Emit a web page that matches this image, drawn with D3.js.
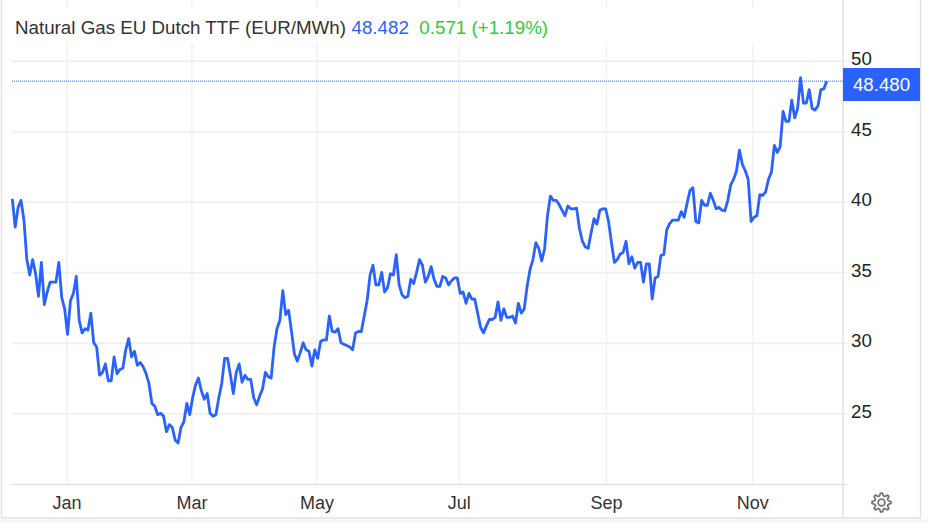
<!DOCTYPE html>
<html>
<head>
<meta charset="utf-8">
<script src="https://cdn.jsdelivr.net/npm/d3@7"></script>
<style>
  html, body { margin: 0; padding: 0; background: #fff; }
  svg { display: block; font-family: "Liberation Sans", Arial, sans-serif; }
  .domain { display: none; }
</style>
</head>
<body>
<svg id="chart" width="928" height="523"></svg>
<script>
// closing prices per trading session
const prices = [
  40.2,38.2,39.6,40.1,38.7,35.9,34.8,35.9,34.9,33.3,35.7,32.7,33.6,34.3,34.3,34.3,35.7,33.2,32.4,30.6,
  33.0,33.5,34.7,31.6,30.7,31.0,30.9,32.1,30.0,29.7,27.7,27.9,28.5,27.3,27.3,29.0,27.8,28.1,28.2,29.5,
  30.3,29.0,29.4,28.4,28.6,28.3,27.8,27.1,25.7,25.5,24.9,25.0,24.8,23.7,24.2,24.0,23.1,22.9,24.0,24.4,
  25.7,24.9,26.1,27.0,27.5,26.6,26.0,26.4,25.0,24.8,24.9,26.1,27.1,28.9,28.9,27.7,26.4,27.9,28.5,27.2,
  27.7,27.4,27.4,26.1,25.6,26.2,26.7,27.9,27.6,27.5,29.7,31.0,31.6,33.7,32.0,32.3,30.8,29.2,28.7,29.3,
  30.0,29.5,29.4,
  28.35,29.5,28.9,30.1,30.2,30.2,31.9,30.8,30.75,31.0,30.0,29.9,29.8,29.7,29.5,30.7,30.8,30.8,31.9,33.0,
  34.8,35.5,34.1,34.1,35.0,33.6,33.9,34.9,34.8,36.25,34.1,33.4,33.2,33.3,34.5,34.2,35.0,35.9,35.5,34.3,
  34.7,35.4,34.5,34.0,34.0,34.7,34.6,34.1,34.4,34.6,34.6,33.5,33.6,32.8,33.5,33.1,33.1,32.1,31.1,30.7,
  31.2,31.65,31.65,31.8,32.9,31.6,32.4,31.8,31.8,31.9,31.4,32.8,32.1,32.4,34.0,35.2,35.9,37.1,36.7,35.8,
  36.65,39.0,40.4,40.1,40.1,39.8,39.4,39.0,39.7,39.5,39.5,39.55,38.1,37.2,36.8,36.7,37.8,38.8,38.4,39.4,
  39.5,39.5,38.6,37.1,35.7,35.9,
  36.3,36.4,37.2,35.6,36.1,35.3,35.7,35.7,34.3,35.6,35.6,33.1,34.6,34.7,36.2,36.25,38.0,38.45,38.7,38.7,
  38.7,39.3,38.9,39.9,40.8,41.0,38.6,38.5,40.1,39.75,39.75,40.6,40.1,39.5,39.6,39.4,39.35,40.1,41.2,41.6,
  42.2,43.65,42.65,42.2,41.6,38.6,38.9,39.0,40.5,40.45,40.7,41.6,42.1,44.0,43.5,43.9,46.4,45.7,45.7,47.2,
  45.95,46.6,48.8,47.0,47.0,47.95,46.6,46.5,46.8,47.95,48.0,48.55
];

// month labels and the session each one falls on
const monthLabels = ['Jan', 'Mar', 'May', 'Jul', 'Sep', 'Nov'];
const monthSessions = [18.6, 61.6, 104.6, 153.5, 204.1, 254.4];
const priceTicks = [25, 30, 35, 40, 45, 50];

const titleName = 'Natural Gas EU Dutch TTF (EUR/MWh)';
const titlePrice = '48.482';
const titleChange = '0.571 (+1.19%)';
const lastLabel = '48.480';
const lastLevel = 48.55;

const blue = '#2962ff';
const svg = d3.select('#chart');

const xScale = d3.scaleLinear().domain([0, prices.length - 1]).range([12.3, 826.7]);
const yScale = d3.scaleLinear().domain([25, 50]).range([413.3, 60.7]);

// vertical month grid + labels
const xAxis = d3.axisBottom(xScale)
  .tickValues(monthSessions)
  .tickFormat((d, i) => monthLabels[i])
  .tickSize(-484)
  .tickPadding(12);

const xAxisG = svg.append('g')
  .attr('transform', 'translate(0,484)')
  .call(xAxis);
xAxisG.selectAll('.tick line').attr('stroke', '#eef3f7').attr('stroke-width', 1.5);
xAxisG.selectAll('.tick text')
  .attr('fill', '#333')
  .style('font-size', '18px');

// white strip behind the title hides the grid there
svg.append('rect')
  .attr('x', 0).attr('y', 8)
  .attr('width', 842).attr('height', 35)
  .attr('fill', '#fff');

// horizontal grid
const gridG = svg.append('g')
  .attr('transform', 'translate(12,0)')
  .call(d3.axisRight(yScale).tickValues(priceTicks).tickSize(830).tickFormat(''));
gridG.selectAll('.tick line').attr('stroke', '#f0f0f0').attr('stroke-width', 2);

// right axis
const yAxis = d3.axisRight(yScale)
  .tickValues(priceTicks)
  .tickSize(6)
  .tickPadding(2);
const yAxisG = svg.append('g')
  .attr('transform', 'translate(843,0)')
  .call(yAxis);
yAxisG.selectAll('.tick line').attr('stroke', '#ececec');
yAxisG.selectAll('.tick text')
  .attr('fill', '#222')
  .attr('dy', '0.22em')
  .style('font-size', '18.7px');

// frame lines
const frame = svg.append('g').attr('stroke', '#e2e2e2').attr('stroke-width', 1.5);
frame.append('line').attr('x1', 843).attr('x2', 843).attr('y1', 0).attr('y2', 518);
frame.append('line').attr('x1', 12).attr('x2', 848).attr('y1', 484.5).attr('y2', 484.5);
frame.append('line').attr('x1', 1.5).attr('x2', 1.5).attr('y1', 0).attr('y2', 518);
frame.append('line').attr('x1', 920.5).attr('x2', 920.5).attr('y1', 0).attr('y2', 518);
frame.append('line').attr('x1', 1).attr('x2', 921).attr('y1', 518).attr('y2', 518);
svg.append('rect').attr('x', 0).attr('y', 519).attr('width', 928).attr('height', 4).attr('fill', '#f7f7f7');

// last price dotted line
svg.append('line')
  .attr('x1', 12).attr('x2', 843)
  .attr('y1', yScale(lastLevel)).attr('y2', yScale(lastLevel))
  .attr('stroke', blue)
  .attr('stroke-width', 1)
  .attr('stroke-dasharray', '1 1');

// price line
const line = d3.line()
  .x((d, i) => xScale(i))
  .y(d => yScale(d));

svg.append('path')
  .datum(prices)
  .attr('fill', 'none')
  .attr('stroke', blue)
  .attr('stroke-width', 2.8)
  .attr('stroke-linejoin', 'round')
  .attr('d', line);

// last price label
svg.append('rect')
  .attr('x', 843).attr('y', 68)
  .attr('width', 77).attr('height', 33)
  .attr('fill', blue);
svg.append('text')
  .attr('x', 881.5).attr('y', 90.5)
  .attr('text-anchor', 'middle')
  .attr('fill', '#fff')
  .style('font-size', '18.7px')
  .text(lastLabel);

// title
const title = svg.append('text')
  .attr('x', 15).attr('y', 34)
  .style('font-size', '18.75px');
title.append('tspan').attr('fill', '#333').text(titleName);
title.append('tspan').attr('dx', 5.5).attr('fill', blue).text(titlePrice);
title.append('tspan').attr('dx', 10.5).attr('fill', '#2ecc40').text(titleChange);

// settings gear
const gearRadius = i => (i % 4 < 2 ? 9.5 : 6.8);
const gearPoints = d3.range(32).map(i => {
  const a = (i - 0.5) / 32 * 2 * Math.PI - Math.PI / 2;
  return [gearRadius(i) * Math.cos(a), gearRadius(i) * Math.sin(a)];
});
const gear = svg.append('g')
  .attr('transform', 'translate(881.5,502.5)')
  .attr('fill', 'none')
  .attr('stroke', '#757575')
  .attr('stroke-width', 1.8);
gear.append('path')
  .attr('stroke-linejoin', 'round')
  .attr('d', d3.line().curve(d3.curveLinearClosed)(gearPoints));
gear.append('circle').attr('r', 3.4);
</script>
</body>
</html>
